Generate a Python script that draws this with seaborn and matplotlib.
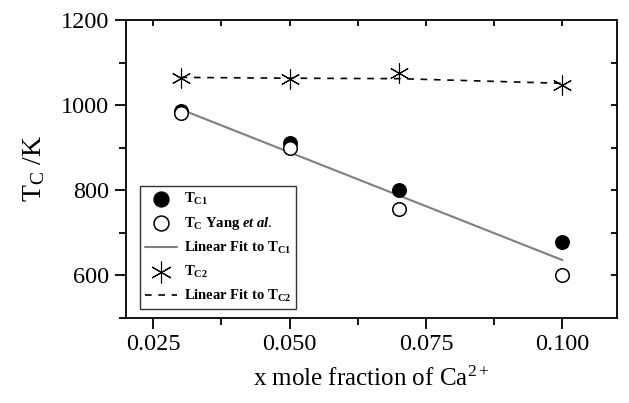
import matplotlib
matplotlib.use("Agg")
import matplotlib.pyplot as plt
import seaborn as sns
import pandas as pd
from matplotlib.ticker import MultipleLocator

# data
x_vals = [0.03, 0.05, 0.07, 0.10]
tc1 = [985, 910, 800, 678]
tc_yang = [982, 900, 755, 600]
tc2 = [1063, 1062, 1075, 1046]
fit1_x = [0.03, 0.10]
fit1_y = [990, 635]
fit2_x = [0.03, 0.05, 0.07, 0.10]
fit2_y = [1065, 1063, 1062, 1051]

sns.set_theme(style="ticks")
plt.rcParams["font.family"] = ["Liberation Serif", "DejaVu Serif"]
plt.rcParams["mathtext.fontset"] = "custom"
plt.rcParams["mathtext.rm"] = "Liberation Serif"
plt.rcParams["mathtext.bf"] = "Liberation Serif:bold"
plt.rcParams["mathtext.it"] = "Liberation Serif:italic:bold"
for k in ["text.color", "axes.labelcolor", "xtick.color", "ytick.color", "axes.edgecolor"]:
    plt.rcParams[k] = "black"

fig = plt.figure(figsize=(6.29, 4.03), dpi=100)
ax = fig.add_axes([126/629, 1-317.5/403, (617-126)/629, (317.5-20)/403])

df1 = pd.DataFrame({"x": x_vals, "y": tc1})
dfy = pd.DataFrame({"x": x_vals, "y": tc_yang})
df2 = pd.DataFrame({"x": x_vals, "y": tc2})
dff1 = pd.DataFrame({"x": fit1_x, "y": fit1_y})
dff2 = pd.DataFrame({"x": fit2_x, "y": fit2_y})

sns.lineplot(data=dff2, x="x", y="y", ax=ax, color="black", lw=1.2,
             linestyle=(0, (4, 4)), label=r"Linear Fit to T$_{\mathbf{C2}}$", zorder=1)
sns.lineplot(data=dff1, x="x", y="y", ax=ax, color="#7f7f7f", lw=1.5,
             label=r"Linear Fit to T$_{\mathbf{C1}}$", zorder=1)
sns.scatterplot(data=df1, x="x", y="y", ax=ax, color="black", s=95,
                edgecolor="black", linewidth=1, label=r"T$_{\mathbf{C1}}$", zorder=3)
sns.scatterplot(data=dfy, x="x", y="y", ax=ax, facecolor="white", s=95,
                edgecolor="black", linewidth=1.1, label=r"T$_{\mathbf{C}}$ Yang $\mathit{et\ al.}$", zorder=4)
sns.scatterplot(data=df2, x="x", y="y", ax=ax, marker=(6, 2, 0), s=190,
                color="black", edgecolor="black", linewidth=0.8, label=r"T$_{\mathbf{C2}}$", zorder=4)

ax.set_xlim(0.02, 0.11)
ax.set_ylim(500, 1200)
ax.xaxis.set_minor_locator(MultipleLocator(0.0125))
ax.yaxis.set_minor_locator(MultipleLocator(100))
ax.set_xticks([0.025, 0.05, 0.075, 0.1])
ax.set_xticklabels(["0.025", "0.050", "0.075", "0.100"])
ax.set_yticks([600, 800, 1000, 1200])
ax.set_yticklabels(["600", "800", "1000", "1200"])

for s in ax.spines.values():
    s.set_linewidth(1.3)
    s.set_color("black")
    s.set_visible(True)

ax.tick_params(axis="both", which="major", direction="out", length=8, width=1.3,
               labelsize=17.5, colors="black", pad=4)
ax.tick_params(axis="both", which="minor", direction="out", length=5, width=1.3)
ax2 = ax.twinx()
ax2.set_ylim(ax.get_ylim())
ax2.set_yticks([600, 700, 800, 900, 1000, 1100])
ax2.tick_params(axis="y", direction="in", length=4, width=1.3, labelright=False)
ax3 = ax.twiny()
ax3.set_xlim(ax.get_xlim())
ax3.set_xticks([0.025, 0.0375, 0.05, 0.0625, 0.075, 0.0875, 0.1])
ax3.tick_params(axis="x", direction="in", length=4, width=1.3, labeltop=False)
for a in (ax2, ax3):
    for s in a.spines.values():
        s.set_visible(False)

ax.set_xlabel(r"x mole fraction of Ca$^{2+}$", fontsize=18, labelpad=8)
ax.set_ylabel(r"T$_{\mathrm{C}}$ /K", fontsize=20, labelpad=10)

h, l = ax.get_legend_handles_labels()
order = [2, 3, 1, 4, 0]
leg = ax.legend([h[i] for i in order], [l[i] for i in order], loc="lower left",
                bbox_to_anchor=(0.029, 0.03), frameon=True, fancybox=False,
                prop={"weight": "bold", "size": 10.5}, handlelength=2.2, handletextpad=0.5,
                labelspacing=0.55, borderpad=0.3, borderaxespad=0, markerscale=1.1)
leg.get_frame().set_edgecolor("black")
leg.get_frame().set_linewidth(1.0)

fig.savefig("out.png", dpi=100)
